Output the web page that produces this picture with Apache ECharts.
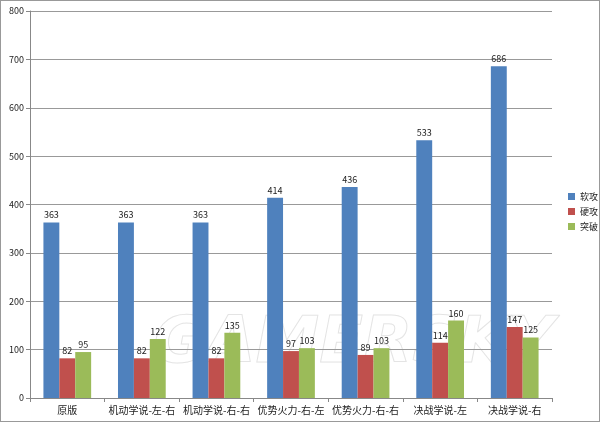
<!DOCTYPE html>
<html><head><meta charset="utf-8">
<script src="https://cdn.jsdelivr.net/npm/echarts@6/dist/echarts.min.js"></script>
<style>html,body{margin:0;padding:0;background:#fff}#c{width:600px;height:422px;box-sizing:border-box;border:1px solid #999}</style>
</head><body><div id="c"></div>
<script>
const categories = ['原版','机动学说-左-右','机动学说-右-右','优势火力-右-左','优势火力-右-右','决战学说-左','决战学说-右'];
const softAttack = [363,363,363,414,436,533,686];
const hardAttack = [82,82,82,97,89,114,147];
const breakthrough = [95,122,135,103,103,160,125];
const seriesNames = ['软攻','硬攻','突破'];
const colors = ['#4F81BD','#C0504D','#9BBB59'];
const yTicks = {min:0,max:800,interval:100};

const chart = echarts.init(document.getElementById('c'));
const font = '"Noto Sans CJK SC", "DejaVu Sans", sans-serif';
const lbl = {show:true,position:'top',fontSize:9,color:'#222',fontFamily:font,distance:3};
chart.setOption({
  animation:false,
  textStyle:{fontFamily:font},
  grid:{left:29,right:47,top:10,bottom:23},
  legend:{orient:'vertical',left:562,top:186,itemWidth:7,itemHeight:7,itemGap:6,
    textStyle:{fontSize:9,color:'#222'},data:seriesNames,icon:'rect'},
  xAxis:{type:'category',data:categories,
    axisLine:{lineStyle:{color:'#888'}},
    axisTick:{show:true,alignWithLabel:false,length:4,lineStyle:{color:'#888'}},
    axisLabel:{fontSize:10,color:'#222',margin:7,interval:0}},
  yAxis:{type:'value',min:yTicks.min,max:yTicks.max,interval:yTicks.interval,
    axisLine:{show:true,lineStyle:{color:'#888'}},
    axisTick:{show:true,length:4,lineStyle:{color:'#888'}},
    splitLine:{lineStyle:{color:'#999'}},
    axisLabel:{fontSize:9,color:'#222',margin:6}},
  graphic:[{type:'text',left:152,top:312,z:-1,
    style:{text:'GAMERSKY',font:'italic bold 64px "DejaVu Sans", sans-serif',fill:'rgba(255,255,255,0.1)',stroke:'rgba(160,160,160,0.3)',lineWidth:1}}],
  series:[
    {name:seriesNames[0],type:'bar',data:softAttack,itemStyle:{color:colors[0]},label:lbl,barGap:'0%',barCategoryGap:'36%'},
    {name:seriesNames[1],type:'bar',data:hardAttack,itemStyle:{color:colors[1]},label:lbl},
    {name:seriesNames[2],type:'bar',data:breakthrough,itemStyle:{color:colors[2]},label:lbl}
  ]
});
</script></body></html>
